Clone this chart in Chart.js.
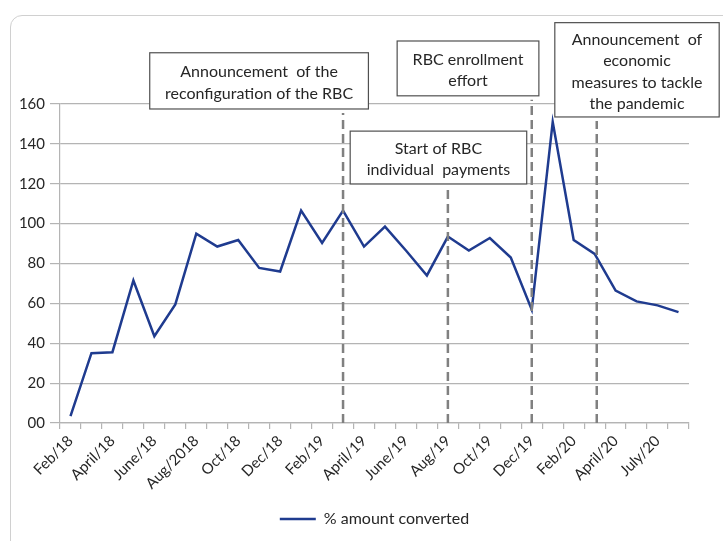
<!DOCTYPE html>
<html>
<head>
<meta charset="utf-8">
<script src="https://cdn.jsdelivr.net/npm/chart.js@4.4.1/dist/chart.umd.min.js"></script>
<style>
  html, body { margin: 0; padding: 0; background: #fff; }
  body { width: 723px; height: 541px; overflow: hidden; position: relative; }
  #frame {
    position: absolute; left: 10px; top: 15px; width: 740px; height: 560px;
    border: 1px solid #d0d0d0; border-radius: 12px;
  }
  #wrap { position: absolute; left: 0; top: 0; width: 723px; height: 541px; }
</style>
</head>
<body>
<div id="frame"></div>
<div id="wrap"><canvas id="grafico"></canvas></div>
<script>
// meses (30 pontos) - só os rótulos pares aparecem no eixo
const meses = [
  'Feb/18', 'Mar/18', 'April/18', 'May/18', 'June/18', 'July/18',
  'Aug/2018', 'Sep/18', 'Oct/18', 'Nov/18', 'Dec/18', 'Jan/19',
  'Feb/19', 'Mar/19', 'April/19', 'May/19', 'June/19', 'July/19',
  'Aug/19', 'Sep/19', 'Oct/19', 'Nov/19', 'Dec/19', 'Jan/20',
  'Feb/20', 'Mar/20', 'April/20', 'June/20', 'July/20', 'Aug/20'
];

const valoresConvertidos = [
  3.5, 35, 35.5, 71.5, 43.5, 59.5, 95, 88.5, 91.8, 77.8,
  76, 106.5, 90.3, 106.5, 88.5, 98.5, 86.5, 74, 93.5, 86.5,
  92.8, 83, 56.8, 151, 91.8, 84.8, 66.4, 61, 59, 55.6
];

const ticksY = [0, 20, 40, 60, 80, 100, 120, 140, 160];

// eventos: posição no eixo x (índice do mês) e texto da caixa
const eventosIndice = [13, 18, 22, 25.1];
const eventosTexto = [
  ['Announcement  of the', 'reconfiguration of the RBC'],
  ['Start of RBC', 'individual  payments'],
  ['RBC enrollment', 'effort'],
  ['Announcement  of', 'economic', 'measures to tackle', 'the pandemic']
];

// caixas em unidades das escalas: [de, até] no eixo x, [topo, base] no eixo y
const caixas = [
  { de: 3.78, ate: 14.21, topo: 185.7, base: 157.5 },
  { de: 13.34, ate: 21.76, topo: 146.4, base: 119.9 },
  { de: 15.58, ate: 22.34, topo: 191.6, base: 164.1 },
  { de: 23.1, ate: 30.94, topo: 200.8, base: 153.5 }
];

const fonte = 'Lato, "Open Sans", sans-serif';
const corTexto = '#262626';
const corGrade = '#b4b4b4';

const pluginEventos = {
  id: 'eventos',
  afterDatasetsDraw(chart) {
    const { ctx, scales: { x, y } } = chart;
    ctx.save();
    // linhas tracejadas
    ctx.strokeStyle = '#808080';
    ctx.lineWidth = 2.5;
    ctx.setLineDash([9, 5]);
    eventosIndice.forEach((idx, i) => {
      const px = x.getPixelForValue(idx);
      const topo = y.getPixelForValue(caixas[i].base) + 4;
      ctx.beginPath();
      ctx.moveTo(px, y.getPixelForValue(0));
      ctx.lineTo(px, topo);
      ctx.stroke();
    });
    ctx.setLineDash([]);
    // caixas de texto
    ctx.font = '16px ' + fonte;
    ctx.textAlign = 'center';
    ctx.textBaseline = 'middle';
    caixas.forEach((c, i) => {
      const x0 = x.getPixelForValue(c.de);
      const x1 = x.getPixelForValue(c.ate);
      const y0 = y.getPixelForValue(c.topo);
      const y1 = y.getPixelForValue(c.base);
      ctx.fillStyle = '#fff';
      ctx.fillRect(x0, y0, x1 - x0, y1 - y0);
      ctx.strokeStyle = '#505050';
      ctx.lineWidth = 1.2;
      ctx.strokeRect(x0, y0, x1 - x0, y1 - y0);
      const linhas = eventosTexto[i];
      const alt = 21.5;
      const meio = (y0 + y1) / 2;
      ctx.fillStyle = corTexto;
      linhas.forEach((t, k) => {
        ctx.fillText(t, (x0 + x1) / 2, meio + (k - (linhas.length - 1) / 2) * alt + 2);
      });
    });
    ctx.restore();
  }
};

const ctx = document.getElementById('grafico').getContext('2d');
new Chart(ctx, {
  type: 'line',
  data: {
    labels: meses,
    datasets: [{
      label: '% amount converted',
      data: valoresConvertidos,
      borderColor: '#1f3b8f',
      backgroundColor: '#1f3b8f',
      borderWidth: 2.5,
      pointRadius: 0,
      tension: 0
    }]
  },
  options: {
    responsive: true,
    maintainAspectRatio: false,
    animation: false,
    layout: { padding: { top: 104, right: 34, bottom: 4, left: 0 } },
    plugins: {
      tooltip: { enabled: false },
      legend: {
        position: 'bottom',
        fullSize: false,
        labels: {
          usePointStyle: true,
          pointStyle: 'line',
          pointStyleWidth: 36,
          color: corTexto,
          font: { family: fonte, size: 16 },
          padding: 10
        }
      }
    },
    scales: {
      x: {
        offset: true,
        grid: { offset: true, drawOnChartArea: false, color: corGrade, tickLength: 6, lineWidth: 1.2 },
        border: { color: corGrade, width: 1.2 },
        ticks: {
          autoSkip: false,
          minRotation: 45,
          maxRotation: 45,
          color: corTexto,
          font: { family: fonte, size: 15 },
          callback(value, index) {
            return index % 2 === 0 ? this.getLabelForValue(value) : '';
          }
        },
        afterFit(scale) { scale.height = 78; }
      },
      y: {
        min: 0,
        max: 160,
        afterBuildTicks(scale) { scale.ticks = ticksY.map(v => ({ value: v })); },
        grid: { color: corGrade, tickLength: 10, lineWidth: 1.2 },
        border: { color: corGrade, width: 1.2 },
        ticks: {
          color: corTexto,
          padding: 5,
          font: { family: fonte, size: 15 },
          callback: v => (v === 0 ? '00' : v)
        },
        afterFit(scale) { scale.width = 60; }
      }
    }
  },
  plugins: [pluginEventos]
});
</script>
</body>
</html>
